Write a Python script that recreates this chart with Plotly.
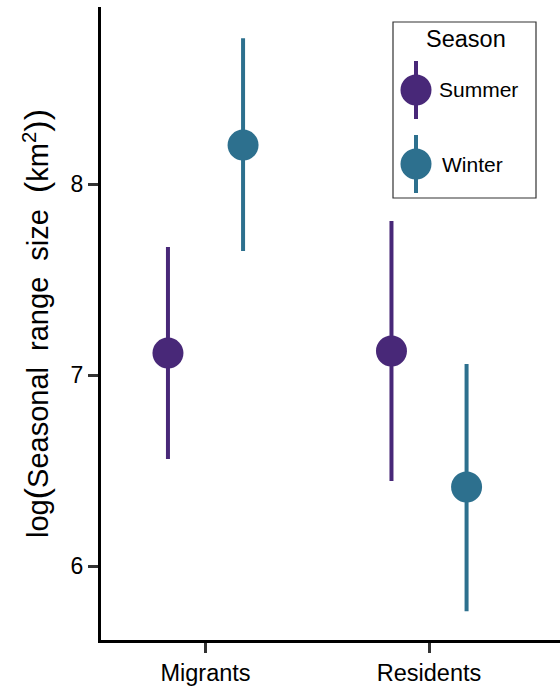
import plotly.graph_objects as go

# ---- data ----
groups = ["Migrants", "Residents"]
seasons = ["Summer", "Winter"]
summer_mean = [7.115, 7.126]
summer_lower = [6.56, 6.445]
summer_upper = [7.67, 7.806]
winter_mean = [8.204, 6.414]
winter_lower = [7.649, 5.764]
winter_upper = [8.764, 7.058]
colors = {"Summer": "#482878", "Winter": "#2D708E"}
yticks = [6, 7, 8]

dodge = 0.168
FONT = "Liberation Sans, Arial, sans-serif"

fig = go.Figure()

def add_series(name, mean, lower, upper, offset):
    xs = [i + 1 + offset for i in range(len(groups))]
    fig.add_trace(go.Scatter(
        x=xs, y=mean, mode="markers", name=name, showlegend=False,
        marker=dict(size=31, color=colors[name], line=dict(width=0)),
        error_y=dict(type="data", symmetric=False,
                     array=[u - m for u, m in zip(upper, mean)],
                     arrayminus=[m - l for m, l in zip(mean, lower)],
                     color=colors[name], thickness=4, width=0),
        xaxis="x", yaxis="y",
    ))

add_series("Summer", summer_mean, summer_lower, summer_upper, -dodge)
add_series("Winter", winter_mean, winter_lower, winter_upper, dodge)

# ---- custom legend on a pixel-like overlay axis ----
leg_y = {"Summer": 90, "Winter": 164}
for s in seasons:
    fig.add_trace(go.Scatter(
        x=[416, 416], y=[leg_y[s] - 29, leg_y[s] + 29], mode="lines",
        line=dict(color=colors[s], width=4), showlegend=False,
        hoverinfo="skip", xaxis="x2", yaxis="y2"))
    fig.add_trace(go.Scatter(
        x=[416], y=[leg_y[s]], mode="markers",
        marker=dict(size=31, color=colors[s]), showlegend=False,
        hoverinfo="skip", xaxis="x2", yaxis="y2"))

fig.add_shape(type="rect", xref="x2", yref="y2", x0=393, x1=536, y0=22, y1=198,
              line=dict(color="#333333", width=1.2), fillcolor="rgba(0,0,0,0)")
fig.add_annotation(xref="x2", yref="y2", x=466, y=39, text="Season", showarrow=False,
                   font=dict(family=FONT, size=23.5, color="black"))
fig.add_annotation(xref="x2", yref="y2", x=437, y=89, text="Summer", showarrow=False,
                   xanchor="left", font=dict(family=FONT, size=21, color="black"))
fig.add_annotation(xref="x2", yref="y2", x=440, y=164, text="Winter", showarrow=False,
                   xanchor="left", font=dict(family=FONT, size=21, color="black"))

big = "<span style='font-size:34px'>%s</span>"
ytitle = ("log" + big % "(" + "Seasonal  range  size  " + big % "(" +
          "km<sup>2</sup>" + big % ")" + big % ")")

fig.update_layout(
    width=560, height=687,
    margin=dict(l=101, r=0, t=7, b=47),
    paper_bgcolor="white", plot_bgcolor="white",
    font=dict(family=FONT, color="black"),
    xaxis=dict(range=[0.5324, 2.586], tickvals=[1, 2], ticktext=groups,
               showgrid=False, zeroline=False, showline=True, linecolor="black",
               linewidth=3, ticks="outside", ticklen=10, tickwidth=3,
               tickcolor="#333333", tickfont=dict(size=23.5, color="black"),
               fixedrange=True),
    yaxis=dict(range=[5.613, 8.927], tickvals=yticks, ticktext=[str(t) for t in yticks],
               showgrid=False, zeroline=False, showline=True, linecolor="black",
               linewidth=3, ticks="outside", ticklen=10, tickwidth=3,
               tickcolor="#333333", tickfont=dict(size=23, color="black"),
               title=dict(text=ytitle,
                          font=dict(size=29, color="black"), standoff=14),
               fixedrange=True),
    xaxis2=dict(range=[101, 560], overlaying="x", anchor="y2", visible=False,
                fixedrange=True),
    yaxis2=dict(range=[640, 7], overlaying="y", anchor="x2", visible=False,
                fixedrange=True),
)

fig.write_html("out.html", config={"displayModeBar": False},
               post_script="document.body.style.margin='0';document.body.style.overflow='hidden';")
